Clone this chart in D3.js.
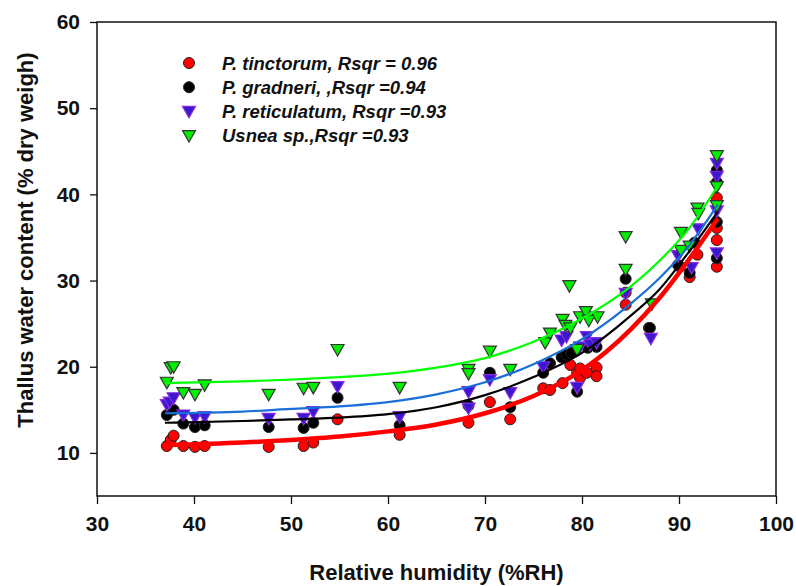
<!DOCTYPE html>
<html>
<head>
<meta charset="utf-8">
<script src="https://cdn.jsdelivr.net/npm/d3@7"></script>
<style>
  body { margin: 0; background: #fff; }
  text { font-family: "Liberation Sans", Arial, sans-serif; fill: #111; }
</style>
</head>
<body>
<svg id="chart"></svg>
<script>
// scatter data: [RH, water content]
const tinctorum = [[37.2,10.8],[37.6,11.5],[37.9,12.0],[38.9,10.8],[40.1,10.7],[41.1,10.8],[47.7,10.7],[51.3,10.8],[52.3,11.2],[54.8,13.9],[61.2,12.1],[68.3,13.5],[70.5,15.9],[72.6,13.9],[76.0,17.5],[76.7,17.3],[78.0,18.1],[78.8,20.2],[79.5,19.3],[79.8,18.7],[79.8,19.8],[80.5,19.3],[81.5,19.9],[81.5,18.9],[84.5,28.6],[84.5,27.2],[86.9,24.5],[90.1,31.6],[91.1,30.4],[91.9,33.0],[93.9,39.6],[93.9,36.1],[93.9,34.7],[93.9,31.6]];
const gradneri = [[37.2,14.4],[37.9,15.0],[38.9,13.4],[40.1,13.0],[41.1,13.2],[47.7,13.0],[51.3,12.9],[52.3,13.5],[54.8,16.4],[61.2,13.2],[68.3,15.5],[70.5,19.3],[72.6,15.3],[76.0,19.3],[76.7,20.4],[77.9,21.1],[78.4,21.4],[78.9,21.6],[79.5,17.1],[80.6,22.2],[81.5,22.3],[84.5,30.2],[87.0,24.5],[89.9,31.8],[91.1,30.9],[91.6,34.4],[93.9,42.8],[93.9,41.4],[93.9,36.8],[93.9,32.6]];
const reticulatum = [[37.2,15.6],[37.5,15.9],[37.9,16.4],[38.9,14.4],[40.1,14.1],[41.1,14.2],[47.7,14.0],[51.3,14.0],[52.3,14.8],[54.8,17.7],[61.2,14.2],[68.3,17.1],[68.3,15.2],[70.5,18.5],[72.6,17.0],[76.0,20.0],[77.9,23.1],[78.4,23.5],[79.5,17.6],[79.8,22.3],[80.5,23.5],[80.8,22.6],[81.5,22.8],[84.5,28.5],[87.1,23.3],[89.9,32.9],[91.3,31.5],[92.0,36.0],[93.9,43.6],[93.9,42.1],[93.9,38.1],[93.9,33.2]];
const usnea = [[37.2,18.2],[37.6,19.9],[37.9,20.0],[38.9,17.0],[40.1,16.8],[41.1,17.9],[47.7,16.8],[51.3,17.5],[52.3,17.6],[54.8,22.0],[61.2,17.6],[68.3,19.7],[68.3,19.2],[70.5,21.8],[72.6,19.7],[76.2,22.8],[76.7,23.9],[78.0,25.5],[78.3,24.8],[78.8,24.5],[79.5,22.0],[79.8,25.8],[80.4,26.4],[80.7,25.4],[81.6,25.8],[78.7,29.4],[84.5,35.1],[84.5,31.3],[87.2,27.3],[90.2,35.6],[90.2,33.5],[91.1,34.0],[91.9,38.4],[92.0,37.8],[93.9,44.5],[93.9,40.9],[93.9,38.7]];

// fitted curves
const fitX = [37, 45, 50, 55, 60, 65, 70, 75, 80, 85, 88, 91, 94];
const fitTinctorum = [10.9, 11.2, 11.5, 11.9, 12.5, 13.3, 14.6, 16.6, 19.6, 24.3, 28.0, 32.4, 37.2];
const fitGradneri = [13.5, 13.7, 13.9, 14.1, 14.5, 15.3, 16.7, 18.8, 21.6, 25.9, 29.0, 33.3, 38.0];
const fitReticulatum = [14.6, 14.8, 15.1, 15.4, 15.9, 16.8, 18.2, 20.3, 23.2, 27.3, 30.3, 34.0, 38.8];
const fitUsnea = [18.1, 18.3, 18.5, 18.8, 19.2, 19.9, 21.0, 22.9, 25.6, 29.3, 32.3, 36.0, 41.0];

const xTicks = [30, 40, 50, 60, 70, 80, 90, 100];
const yTicks = [10, 20, 30, 40, 50, 60];
const legendLabels = ["P. tinctorum, Rsqr = 0.96", "P. gradneri, ,Rsqr =0.94", "P. reticulatum, Rsqr =0.93", "Usnea sp.,Rsqr =0.93"];

const width = 796, height = 586;
const margin = {top: 22, right: 20, bottom: 90, left: 97};

const svg = d3.select("#chart").attr("width", width).attr("height", height);

const x = d3.scaleLinear().domain([30, 100]).range([margin.left, width - margin.right]);
const y = d3.scaleLinear().domain([5, 60]).range([height - margin.bottom, margin.top]);

// frame
svg.append("rect")
  .attr("x", x(30)).attr("y", y(60))
  .attr("width", x(100) - x(30)).attr("height", y(5) - y(60))
  .attr("fill", "none").attr("stroke", "#111").attr("stroke-width", 1.5);

// axes
const xAxis = svg.append("g")
  .attr("transform", "translate(0," + y(5) + ")")
  .call(d3.axisBottom(x).tickValues(xTicks).tickSize(8).tickPadding(12));
const yAxis = svg.append("g")
  .attr("transform", "translate(" + x(30) + ",0)")
  .call(d3.axisLeft(y).tickValues(yTicks).tickSize(7).tickPadding(10));
[xAxis, yAxis].forEach(function (g) {
  g.select(".domain").remove();
  g.selectAll(".tick line").attr("stroke", "#111").attr("stroke-width", 1.3);
  g.selectAll(".tick text").attr("font-size", 21).attr("font-weight", "bold")
    .attr("font-family", "'Liberation Sans', Arial, sans-serif").attr("fill", "#111");
});

// axis titles
svg.append("text")
  .attr("x", (x(30) + x(100)) / 2).attr("y", 580)
  .attr("text-anchor", "middle").attr("font-size", 22).attr("font-weight", "bold")
  .text("Relative humidity (%RH)");
svg.append("text")
  .attr("transform", "translate(33,240) rotate(-90)")
  .attr("text-anchor", "middle").attr("font-size", 22).attr("font-weight", "bold")
  .text("Thallus water content (% dry weigh)");

const series = [
  {name: legendLabels[0], data: tinctorum, fit: fitTinctorum, line: "#ff0000", lw: 4.5, shape: "circle", fill: "#ff0000", stroke: "#222"},
  {name: legendLabels[1], data: gradneri, fit: fitGradneri, line: "#000000", lw: 2.2, shape: "circle", fill: "#000000", stroke: "#222"},
  {name: legendLabels[2], data: reticulatum, fit: fitReticulatum, line: "#1a6ed8", lw: 2.2, shape: "tri", fill: "#3a18d0", stroke: "#8a2be2"},
  {name: legendLabels[3], data: usnea, fit: fitUsnea, line: "#00ff00", lw: 2.2, shape: "tri", fill: "#00ee00", stroke: "#333"}
];

const line = d3.line()
  .x(function (d) { return x(d[0]); })
  .y(function (d) { return y(d[1]); })
  .curve(d3.curveMonotoneX);

const triPath = "M-6.5,-5 L6.5,-5 L0,6.5 Z";

function drawMarker(g, s) {
  if (s.shape === "circle") {
    g.append("circle").attr("r", 5.5)
      .attr("fill", s.fill).attr("stroke", s.stroke).attr("stroke-width", 1);
  } else {
    g.append("path").attr("d", triPath)
      .attr("fill", s.fill).attr("stroke", s.stroke).attr("stroke-width", 1.2);
  }
}

// points
series.forEach(function (s) {
  svg.append("g").selectAll("g")
    .data(s.data)
    .join("g")
    .attr("transform", function (d) { return "translate(" + x(d[0]) + "," + y(d[1]) + ")"; })
    .each(function () { drawMarker(d3.select(this), s); });
});

// fitted lines
series.forEach(function (s) {
  svg.append("path")
    .datum(fitX.map(function (v, i) { return [v, s.fit[i]]; }))
    .attr("fill", "none")
    .attr("stroke", s.line)
    .attr("stroke-width", s.lw)
    .attr("d", line);
});

// legend
const legend = svg.append("g").attr("transform", "translate(189,63)");
series.forEach(function (s, i) {
  const row = legend.append("g").attr("transform", "translate(0," + (i * 24.2) + ")");
  drawMarker(row.append("g"), s);
  row.append("text")
    .attr("x", 33).attr("y", 6.5)
    .attr("font-size", 18.5).attr("font-weight", "bold").attr("font-style", "italic")
    .text(s.name);
});
</script>
</body>
</html>
